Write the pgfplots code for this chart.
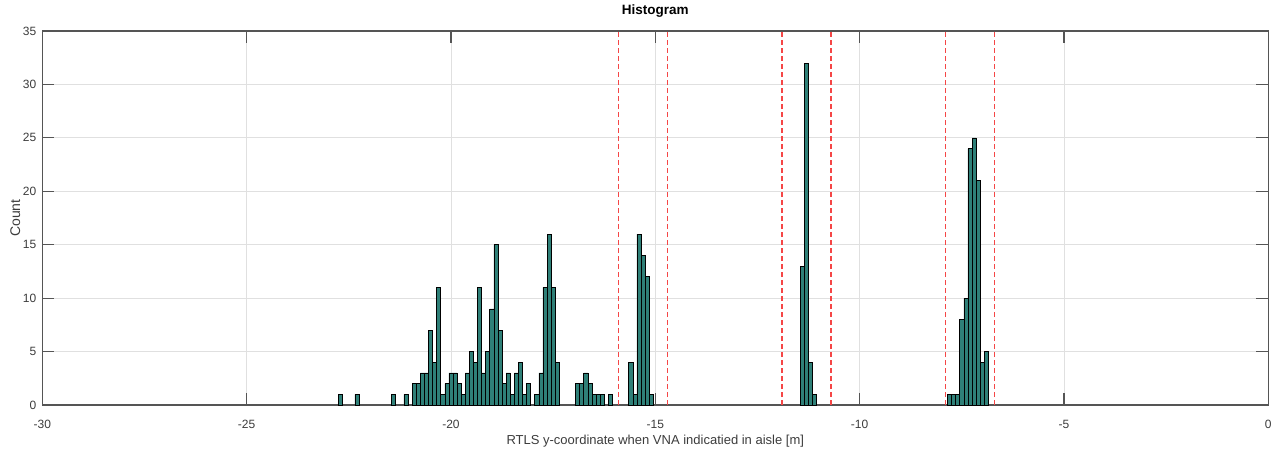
\documentclass[border=0pt]{standalone}
\usepackage{fontspec}
\setmainfont{Liberation Sans}
\usepackage{pgfplots}
\pgfplotsset{compat=1.18}
\definecolor{barfill}{RGB}{47,128,120}
\definecolor{axisgray}{RGB}{85,85,85}
\definecolor{ticktext}{RGB}{60,60,60}
\definecolor{gridgray}{RGB}{224,224,224}
\definecolor{dashred}{RGB}{245,70,70}
\begin{document}
\begin{tikzpicture}
\path[use as bounding box] (-42.3pt,-43pt) rectangle (1239.7pt,405pt);
\begin{axis}[
  scale only axis, width=1226pt, height=374pt,
  at={(0pt,0pt)}, anchor=south west,
  xmin=-30, xmax=0, ymin=0, ymax=35,
  xtick={-30,-25,...,0}, ytick={0,5,...,35},
  tick align=inside, major tick length=12pt,
  xmajorgrids, ymajorgrids,
  grid style={gridgray, line width=0.8pt},
  axis line style={axisgray, line width=1.2pt},
  tick style={axisgray, line width=1.2pt},
  ticklabel style={font=\fontsize{12}{12}\selectfont, text=ticktext},
  /pgf/number format/assume math mode=true,
  xticklabel style={anchor=base, yshift=-23.3pt},
  yticklabel style={anchor=east, xshift=-2.5pt},
  title={Histogram},
  title style={at={(axis description cs:0.5,1)}, anchor=base, yshift=10.5pt, font=\bfseries\fontsize{13.5}{13.5}\selectfont, text=black},
  xlabel={RTLS y-coordinate when VNA indicatied in aisle [m]},
  xlabel style={at={(axis description cs:0.5,0)}, anchor=base, yshift=-39pt, font=\fontsize{13}{13}\selectfont, text=ticktext},
  ylabel={Count},
  ylabel style={at={(axis description cs:-0.022,0.5)}, anchor=center, font=\fontsize{14}{14}\selectfont, text=ticktext},
]
\addplot[ybar, bar width=0.1, bar shift=0pt, fill=barfill, draw=black, line width=0.6pt] coordinates {
(-22.7,1) (-22.3,1) (-21.4,1) (-21.1,1)
(-20.9,2) (-20.8,2) (-20.7,3) (-20.6,3) (-20.5,7) (-20.4,4) (-20.3,11) (-20.2,1) (-20.1,2) (-20.0,3)
(-19.9,3) (-19.8,2) (-19.7,1) (-19.6,3) (-19.5,5) (-19.4,4) (-19.3,11) (-19.2,3) (-19.1,5) (-19.0,9)
(-18.9,15) (-18.8,7) (-18.7,2) (-18.6,3) (-18.5,1) (-18.4,3) (-18.3,4) (-18.2,1) (-18.1,2)
(-17.9,1) (-17.8,3) (-17.7,11) (-17.6,16) (-17.5,11) (-17.4,4)
(-16.9,2) (-16.8,2) (-16.7,3) (-16.6,2) (-16.5,1) (-16.4,1) (-16.3,1) (-16.1,1)
(-15.6,4) (-15.5,1) (-15.4,16) (-15.3,14) (-15.2,12) (-15.1,1)
(-11.4,13) (-11.3,32) (-11.2,4) (-11.1,1)
(-7.8,1) (-7.7,1) (-7.6,1) (-7.5,8) (-7.4,10) (-7.3,24) (-7.2,25) (-7.1,21) (-7.0,4) (-6.9,5)
};
\addplot[dashred, line width=1.2pt, dash pattern=on 5pt off 3pt, forget plot] coordinates {(-15.9,0) (-15.9,35)};
\addplot[dashred, line width=1.2pt, dash pattern=on 5pt off 3pt, forget plot] coordinates {(-14.7,0) (-14.7,35)};
\addplot[dashred, line width=1.2pt, dash pattern=on 5pt off 3pt, forget plot] coordinates {(-11.9,0) (-11.9,35)};
\addplot[dashred, line width=1.2pt, dash pattern=on 5pt off 3pt, forget plot] coordinates {(-10.7,0) (-10.7,35)};
\addplot[dashred, line width=1.2pt, dash pattern=on 5pt off 3pt, forget plot] coordinates {(-7.9,0) (-7.9,35)};
\addplot[dashred, line width=1.2pt, dash pattern=on 5pt off 3pt, forget plot] coordinates {(-6.7,0) (-6.7,35)};
\end{axis}
\end{tikzpicture}
\end{document}
